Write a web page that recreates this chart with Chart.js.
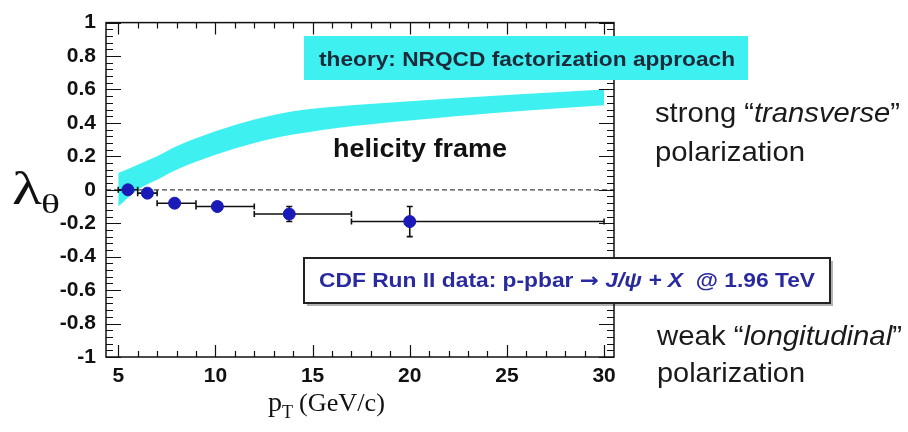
<!DOCTYPE html>
<html>
<head>
<meta charset="utf-8">
<script src="https://cdn.jsdelivr.net/npm/chart.js@4.4.1/dist/chart.umd.min.js"></script>
<style>
  html, body { margin: 0; padding: 0; background: #ffffff; }
  #wrap { width: 908px; height: 432px; position: relative; }
</style>
</head>
<body>
<div id="wrap"><canvas id="c" width="908" height="432"></canvas></div>
<script>
// CDF Run II measurement: lambda_theta vs pT (helicity frame)
const ptCenter = [5.5, 6.5, 7.9, 10.1, 13.8, 20.0];
const ptLow    = [5, 6, 7, 9, 12, 17];
const ptHigh   = [6, 7, 9, 12, 17, 30];
const lambdaTheta = [0.0, -0.02, -0.08, -0.10, -0.145, -0.19];
const lambdaErr   = [0.02, 0.025, 0.02, 0.025, 0.045, 0.09];

// NRQCD prediction band (lower / upper edge)
const theoryPt    = [5, 6, 7, 8, 10, 12, 14, 17, 20, 25, 30];
const theoryLower = [-0.10, 0.0, 0.06, 0.12, 0.21, 0.28, 0.33, 0.38, 0.415, 0.465, 0.505];
const theoryUpper = [0.10, 0.15, 0.20, 0.26, 0.35, 0.42, 0.47, 0.505, 0.53, 0.567, 0.60];

// Axis ticks
const xTickValues = [5, 10, 15, 20, 25, 30];
const yTickValues = [-1, -0.8, -0.6, -0.4, -0.2, 0, 0.2, 0.4, 0.6, 0.8, 1];
const xRange = [4.37, 30.51];
const yRange = [-1, 1];

const AREA = { left: 106, right: 614, top: 18, bottom: 357 };
const BAND_COLOR = '#3ff0f0';
const POINT_COLOR = '#1a1ab8';
const SANS = '"Liberation Sans", Arial, sans-serif';
const SERIF = '"Liberation Serif", "Times New Roman", serif';

function drawAxesFrame(chart) {
  const { ctx } = chart;
  const xs = chart.scales.x, ys = chart.scales.y;
  const a = chart.chartArea;
  ctx.save();
  ctx.strokeStyle = '#111';
  ctx.lineWidth = 1.5;
  ctx.strokeRect(a.left, a.top, a.right - a.left, a.bottom - a.top);
  ctx.lineWidth = 1.2;
  ctx.beginPath();
  // x ticks (bottom and top), minor every 1
  for (let v = 5; v <= 30; v += 1) {
    const px = Math.round(xs.getPixelForValue(v)) + 0.5;
    const len = (v % 5 === 0) ? 12 : 6;
    ctx.moveTo(px, a.bottom); ctx.lineTo(px, a.bottom - len);
    ctx.moveTo(px, a.top); ctx.lineTo(px, a.top + len);
  }
  // y ticks (left and right), minor every 0.04
  for (let i = -25; i <= 25; i++) {
    const v = i * 0.04;
    const py = Math.round(ys.getPixelForValue(v)) + 0.5;
    const len = (i % 5 === 0) ? 15 : 7;
    ctx.moveTo(a.left, py); ctx.lineTo(a.left + len, py);
    ctx.moveTo(a.right, py); ctx.lineTo(a.right - len, py);
  }
  ctx.stroke();
  ctx.restore();
}

function drawZeroLine(chart) {
  const { ctx } = chart;
  const ys = chart.scales.y;
  const a = chart.chartArea;
  const py = ys.getPixelForValue(0);
  ctx.save();
  ctx.strokeStyle = '#444';
  ctx.lineWidth = 1.2;
  ctx.setLineDash([5, 3]);
  ctx.beginPath();
  ctx.moveTo(a.left, py); ctx.lineTo(a.right, py);
  ctx.stroke();
  ctx.restore();
}

function drawErrorBars(chart) {
  const { ctx } = chart;
  const xs = chart.scales.x, ys = chart.scales.y;
  ctx.save();
  ctx.strokeStyle = '#111';
  ctx.lineWidth = 1.6;
  ctx.beginPath();
  for (let i = 0; i < ptCenter.length; i++) {
    const y = ys.getPixelForValue(lambdaTheta[i]);
    const x0 = xs.getPixelForValue(ptLow[i]);
    const x1 = xs.getPixelForValue(ptHigh[i]);
    const xc = xs.getPixelForValue(ptCenter[i]);
    ctx.moveTo(x0, y); ctx.lineTo(x1, y);
    ctx.moveTo(x0, y - 3); ctx.lineTo(x0, y + 3);
    ctx.moveTo(x1, y - 3); ctx.lineTo(x1, y + 3);
    const yt = ys.getPixelForValue(lambdaTheta[i] + lambdaErr[i]);
    const yb = ys.getPixelForValue(lambdaTheta[i] - lambdaErr[i]);
    ctx.moveTo(xc, yt); ctx.lineTo(xc, yb);
    ctx.moveTo(xc - 3, yt); ctx.lineTo(xc + 3, yt);
    ctx.moveTo(xc - 3, yb); ctx.lineTo(xc + 3, yb);
  }
  ctx.stroke();
  ctx.restore();
}

// Draws a run of differently styled segments, squeezed or stretched to a given width
function textRun(ctx, segs, x0, y0, width) {
  let total = 0;
  for (const [f, t] of segs) { ctx.font = f; total += ctx.measureText(t).width; }
  const sx = width ? width / total : 1;
  ctx.save();
  ctx.translate(x0, y0);
  ctx.scale(sx, 1);
  let xx = 0;
  for (const [f, t] of segs) {
    ctx.font = f;
    ctx.fillText(t, xx, 0);
    xx += ctx.measureText(t).width;
  }
  ctx.restore();
}

function drawLabels(chart) {
  const { ctx } = chart;
  ctx.save();
  ctx.textBaseline = 'alphabetic';
  ctx.textAlign = 'left';

  // theory label box
  ctx.fillStyle = BAND_COLOR;
  ctx.fillRect(304, 36, 444, 44);
  ctx.fillStyle = '#1c2a3a';
  textRun(ctx, [['bold 21px ' + SANS, 'theory: NRQCD factorization approach']], 319, 66, 416);

  // frame label
  ctx.fillStyle = '#111';
  textRun(ctx, [['bold 25px ' + SANS, 'helicity frame']], 333, 157, 174);

  // data label box
  ctx.fillStyle = 'rgba(0,0,0,0.3)';
  ctx.fillRect(307, 261, 526, 45);
  ctx.fillStyle = '#ffffff';
  ctx.fillRect(304, 258, 526, 45);
  ctx.strokeStyle = '#222';
  ctx.lineWidth = 2;
  ctx.strokeRect(304, 258, 526, 45);
  ctx.fillStyle = '#2a2aa0';
  textRun(ctx, [
    ['bold 20px ' + SANS, 'CDF Run II data: p-pbar '],
    ['bold 20px "DejaVu Sans", sans-serif', '\u2192'],
    ['bold 20px ' + SANS, ' '],
    ['bold italic 20px ' + SANS, 'J/\u03C8 + X'],
    ['bold 20px ' + SANS, '  @ 1.96 TeV']
  ], 319, 287, 496);

  // side annotations
  ctx.fillStyle = '#1a1a1a';
  const reg = '28px ' + SANS;
  const ita = 'italic 28px ' + SANS;
  textRun(ctx, [[reg, 'strong \u201C'], [ita, 'transverse'], [reg, '\u201D']], 655, 122, 245);
  textRun(ctx, [[reg, 'polarization']], 655, 161, 150);
  textRun(ctx, [[reg, 'weak \u201C'], [ita, 'longitudinal'], [reg, '\u201D']], 657, 345, 245);
  textRun(ctx, [[reg, 'polarization']], 657, 382, 148);

  // y-axis title: lambda_theta
  ctx.fillStyle = '#111';
  textRun(ctx, [['46px ' + SERIF, '\u03BB']], 12, 204, 30);
  textRun(ctx, [['28px ' + SERIF, '\u03B8']], 41, 213, 19);

  // x-axis title: p_T (GeV/c)
  textRun(ctx, [['28px ' + SERIF, 'p']], 268, 411, 14);
  textRun(ctx, [['18px ' + SERIF, 'T']], 282, 418, 11);
  textRun(ctx, [['25px ' + SERIF, '(GeV/c)']], 299, 411, 86);
  ctx.restore();
}

const decor = {
  id: 'decor',
  beforeDatasetDraw(chart, args) {
    if (args.index === 2) {
      drawZeroLine(chart);
      drawErrorBars(chart);
    }
  },
  afterDraw(chart) {
    drawAxesFrame(chart);
    drawLabels(chart);
  }
};

const tickFont = { family: SANS, size: 21, weight: 'bold' };

new Chart(document.getElementById('c'), {
  type: 'scatter',
  data: {
    datasets: [
      {
        type: 'line',
        label: 'NRQCD lower',
        data: theoryPt.map((p, i) => ({ x: p, y: theoryLower[i] })),
        borderWidth: 0,
        pointRadius: 0,
        cubicInterpolationMode: 'monotone',
        fill: false,
        order: 2
      },
      {
        type: 'line',
        label: 'NRQCD upper',
        data: theoryPt.map((p, i) => ({ x: p, y: theoryUpper[i] })),
        borderWidth: 0,
        pointRadius: 0,
        cubicInterpolationMode: 'monotone',
        backgroundColor: BAND_COLOR,
        fill: '-1',
        order: 1
      },
      {
        label: 'CDF Run II',
        data: ptCenter.map((p, i) => ({ x: p, y: lambdaTheta[i] })),
        pointRadius: 6,
        pointBackgroundColor: POINT_COLOR,
        pointBorderColor: POINT_COLOR,
        pointBorderWidth: 1,
        order: 0
      }
    ]
  },
  options: {
    responsive: false,
    animation: false,
    layout: { padding: { left: 0, right: 908 - AREA.right, top: AREA.top, bottom: 0 } },
    plugins: { legend: { display: false }, tooltip: { enabled: false } },
    scales: {
      x: {
        type: 'linear',
        min: xRange[0], max: xRange[1],
        grid: { display: false, drawTicks: false },
        border: { display: false },
        afterBuildTicks: (s) => { s.ticks = xTickValues.map(v => ({ value: v })); },
        afterFit: (s) => { s.height = 432 - AREA.bottom; },
        ticks: { color: '#111', font: tickFont, padding: 7, maxRotation: 0, autoSkip: false }
      },
      y: {
        type: 'linear',
        min: yRange[0], max: yRange[1],
        grid: { display: false, drawTicks: false },
        border: { display: false },
        afterBuildTicks: (s) => { s.ticks = yTickValues.map(v => ({ value: v })); },
        afterFit: (s) => { s.width = AREA.left; },
        ticks: {
          color: '#111', font: tickFont, padding: 10, autoSkip: false,
          callback: (v) => String(Math.round(v * 10) / 10)
        }
      }
    }
  },
  plugins: [decor]
});
</script>
</body>
</html>
